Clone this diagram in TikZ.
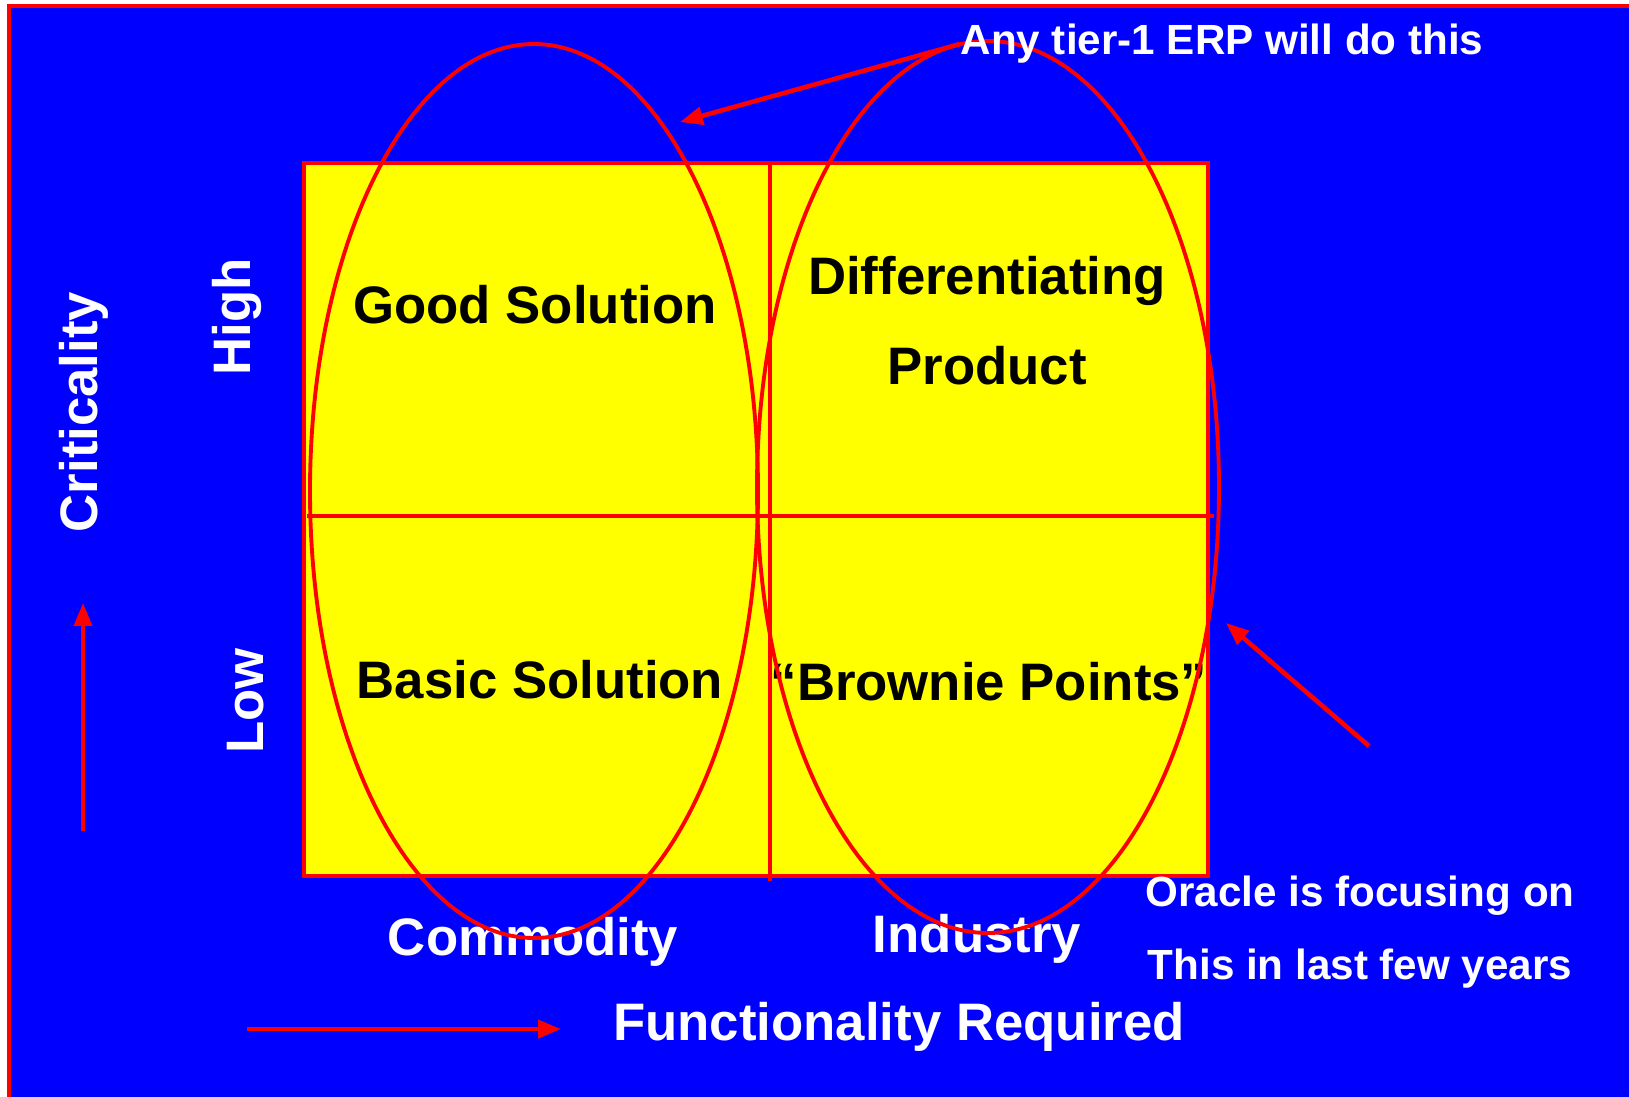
\documentclass[tikz,border=0pt]{standalone}
\usepackage{fontspec}
\setmainfont{Liberation Sans}
\usetikzlibrary{arrows.meta,positioning}
\definecolor{slideblue}{RGB}{0,0,255}
\definecolor{slidered}{RGB}{255,0,0}
\definecolor{slideyellow}{RGB}{255,255,0}
\tikzset{
	cell/.style={font=\fontsize{15}{25.6}\selectfont\bfseries,text=black,align=center},
	axislabel/.style={font=\fontsize{15}{18}\selectfont\bfseries,text=white},
	note/.style={font=\fontsize{12}{20.8}\selectfont\bfseries,text=white,align=center},
	pointer/.style={draw=slidered,line width=1.3pt,-{Triangle[length=6.5pt,width=5pt]}},
	ring/.style={draw=slidered,line width=1.1pt},
}

\begin{document}
\begin{tikzpicture}[x=0.01cm,y=-0.01cm]
	\useasboundingbox (0,0) rectangle (1629,1096);
	\clip (0,0) rectangle (1629,1096);
	\fill [white] (0,0) rectangle (1629,1096);
	\filldraw [fill=slideblue,draw=slidered,line width=1.4pt] (9,6) rectangle (1660,1120);
	\filldraw [fill=slideyellow,draw=slidered,line width=1.2pt] (304,163) rectangle (1208,876);
	\draw [slidered,line width=1.2pt] (770,163) -- (770,881);
	\draw [slidered,line width=1.2pt] (307,516) -- (1214,516);
	\node (good) [cell] at (535,305) {Good Solution};
	\node (diff) [cell] at (987,321) {Differentiating\\Product};
	\node (basic) [cell] at (540,680) {Basic Solution};
	\node (brownie) [cell] at (989,682) {“Brownie Points”};
	\node (crit) [axislabel,rotate=90] at (84,412) {Criticality};
	\node (high) [axislabel,rotate=90] at (237,317) {High};
	\node (low) [axislabel,rotate=90] at (246,701) {Low};
	\node (commodity) [axislabel] at (533,942) {Commodity};
	\node (industry) [axislabel] at (977,939) {Industry};
	\node (func) [axislabel] at (899,1027) {Functionality Required};
	\node (oracle) [note] at (1360,932) {Oracle is focusing on\\This in last few years};
	\draw [ring] (534,491) ellipse [x radius=224,y radius=447];
	\draw [ring] (988,487) ellipse [x radius=231,y radius=446];
	\node (erp) [note,inner sep=0pt] at (1222,44) {Any tier-1 ERP will do this};
	\coordinate (erptip) at (680,122);
	\coordinate (oracletail) at (1369,746);
	\coordinate (oracletip) at (1226,623);
	\coordinate (critbase) at (83,831);
	\coordinate (crittip) at (83,603);
	\coordinate (funcbase) at (247,1029);
	\coordinate (functip) at (561,1029);
	\draw [pointer] (erp.west) -- (erptip);
	\draw [pointer] (oracletail) -- (oracletip);
	\draw [pointer] (critbase) -- (crittip);
	\draw [pointer] (funcbase) -- (functip);
\end{tikzpicture}
\end{document}
